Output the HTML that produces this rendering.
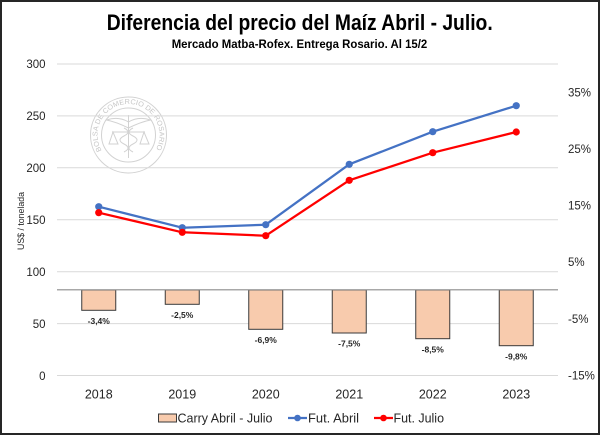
<!DOCTYPE html>
<html><head><meta charset="utf-8"><style>
html,body{margin:0;padding:0;background:#fff;}
svg{display:block;}
text{font-family:"Liberation Sans",sans-serif;}
</style></head><body>
<svg width="600" height="435" viewBox="0 0 600 435" xmlns="http://www.w3.org/2000/svg">
<rect x="0" y="0" width="600" height="435" fill="#fff"/>
<!-- Title -->
<text x="106.7" y="30" font-size="22" font-weight="bold" fill="#000" textLength="386" lengthAdjust="spacingAndGlyphs">Diferencia del precio del Maíz Abril - Julio.</text>
<text x="171.7" y="48" font-size="11.5" font-weight="bold" fill="#000" textLength="255.6" lengthAdjust="spacingAndGlyphs">Mercado Matba-Rofex. Entrega Rosario. Al 15/2</text>

<!-- Watermark -->
<g fill="none" stroke="#d2d2d2" stroke-width="1">
<circle cx="128.5" cy="135" r="38"/>
<circle cx="128.5" cy="135" r="27"/>
<line x1="128.5" y1="115" x2="128.5" y2="158"/>
<path d="M128.5 122 q-10 -6 -22 -2 q10 2 22 8 M128.5 122 q10 -6 22 -2 q-10 2 -22 8"/>
<path d="M112 132 h33 M113 132 l-4 12 h9 z M144 132 l-4 12 h9 z"/>
<path d="M124 128 q8 4 0 8 q-8 4 0 8 q8 4 0 8 M133 128 q-8 4 0 8 q8 4 0 8 q-8 4 0 8"/>
</g>
<defs><path id="arc" d="M101.7 150.5 A31 31 0 1 1 155.3 150.5"/></defs>
<text font-size="7" fill="#c6c6c6"><textPath href="#arc" textLength="128" lengthAdjust="spacingAndGlyphs">BOLSA DE COMERCIO DE ROSARIO</textPath></text>

<!-- Gridlines -->
<g stroke="#d9d9d9" stroke-width="1">
<line x1="57" y1="64" x2="558" y2="64"/>
<line x1="57" y1="115.9" x2="558" y2="115.9"/>
<line x1="57" y1="167.8" x2="558" y2="167.8"/>
<line x1="57" y1="219.8" x2="558" y2="219.8"/>
<line x1="57" y1="271.7" x2="558" y2="271.7"/>
<line x1="57" y1="323.6" x2="558" y2="323.6"/>
<line x1="57" y1="375.5" x2="558" y2="375.5"/>
</g>

<!-- Left axis labels -->
<g font-size="11.5" fill="#262626" text-anchor="end">
<text x="45.5" y="68">300</text>
<text x="45.5" y="120">250</text>
<text x="45.5" y="172">200</text>
<text x="45.5" y="224">150</text>
<text x="45.5" y="276">100</text>
<text x="45.5" y="328">50</text>
<text x="45.5" y="380">0</text>
</g>
<text transform="translate(24,221) rotate(-90)" font-size="9" fill="#262626" text-anchor="middle" textLength="58" lengthAdjust="spacingAndGlyphs">US$ / tonelada</text>

<!-- Right axis labels -->
<g font-size="11.5" fill="#262626">
<text x="568" y="96.3">35%</text>
<text x="568" y="153">25%</text>
<text x="568" y="209.6">15%</text>
<text x="568" y="266.2">5%</text>
<text x="568" y="323">-5%</text>
<text x="568" y="379.5">-15%</text>
</g>

<!-- Bars -->
<g fill="#f8cbad" stroke="#3a3a3a" stroke-width="1">
<rect x="81.75" y="290" width="34" height="20.3"/>
<rect x="165.25" y="290" width="34" height="14.3"/>
<rect x="248.75" y="290" width="34" height="39.3"/>
<rect x="332.25" y="290" width="34" height="43"/>
<rect x="415.75" y="290" width="34" height="48.7"/>
<rect x="499.25" y="290" width="34" height="55.7"/>
</g>
<line x1="57" y1="289.8" x2="558" y2="289.8" stroke="#8c8c8c" stroke-width="1.2"/>

<!-- Bar labels -->
<g font-size="8.5" font-weight="bold" fill="#262626" text-anchor="middle">
<text x="98.75" y="324">-3,4%</text>
<text x="182.25" y="318">-2,5%</text>
<text x="265.75" y="343">-6,9%</text>
<text x="349.25" y="346.3">-7,5%</text>
<text x="432.75" y="352.3">-8,5%</text>
<text x="516.25" y="359.7">-9,8%</text>
</g>

<!-- Lines -->
<polyline fill="none" stroke="#4472c4" stroke-width="2.25" stroke-linejoin="round" points="98.75,206.7 182.25,227.7 265.75,224.7 349.25,164.3 432.75,131.7 516.25,105.7"/>
<g fill="#4472c4">
<circle cx="98.75" cy="206.7" r="3.6"/><circle cx="182.25" cy="227.7" r="3.6"/><circle cx="265.75" cy="224.7" r="3.6"/><circle cx="349.25" cy="164.3" r="3.6"/><circle cx="432.75" cy="131.7" r="3.6"/><circle cx="516.25" cy="105.7" r="3.6"/>
</g>
<polyline fill="none" stroke="#ff0000" stroke-width="2.25" stroke-linejoin="round" points="98.75,212.7 182.25,232.3 265.75,235.7 349.25,180.3 432.75,152.7 516.25,132"/>
<g fill="#ff0000">
<circle cx="98.75" cy="212.7" r="3.6"/><circle cx="182.25" cy="232.3" r="3.6"/><circle cx="265.75" cy="235.7" r="3.6"/><circle cx="349.25" cy="180.3" r="3.6"/><circle cx="432.75" cy="152.7" r="3.6"/><circle cx="516.25" cy="132" r="3.6"/>
</g>

<!-- X labels -->
<g font-size="12.5" fill="#262626" text-anchor="middle">
<text x="98.75" y="398.5">2018</text>
<text x="182.25" y="398.5">2019</text>
<text x="265.75" y="398.5">2020</text>
<text x="349.25" y="398.5">2021</text>
<text x="432.75" y="398.5">2022</text>
<text x="516.25" y="398.5">2023</text>
</g>

<!-- Legend -->
<rect x="158.5" y="414" width="18" height="8" fill="#f8cbad" stroke="#3a3a3a" stroke-width="1"/>
<text x="177.5" y="422.5" font-size="12.5" fill="#262626" textLength="95" lengthAdjust="spacingAndGlyphs">Carry Abril - Julio</text>
<line x1="288" y1="418" x2="307" y2="418" stroke="#4472c4" stroke-width="2.25"/>
<circle cx="297.5" cy="418" r="3.3" fill="#4472c4"/>
<text x="308" y="422.5" font-size="12.5" fill="#262626" textLength="51" lengthAdjust="spacingAndGlyphs">Fut. Abril</text>
<line x1="374" y1="418" x2="393" y2="418" stroke="#ff0000" stroke-width="2.25"/>
<circle cx="383.5" cy="418" r="3.3" fill="#ff0000"/>
<text x="393.5" y="422.5" font-size="12.5" fill="#262626" textLength="50.5" lengthAdjust="spacingAndGlyphs">Fut. Julio</text>

<!-- Frame -->
<rect x="1" y="1" width="598" height="433" fill="none" stroke="#262626" stroke-width="2"/>
</svg>
</body></html>
